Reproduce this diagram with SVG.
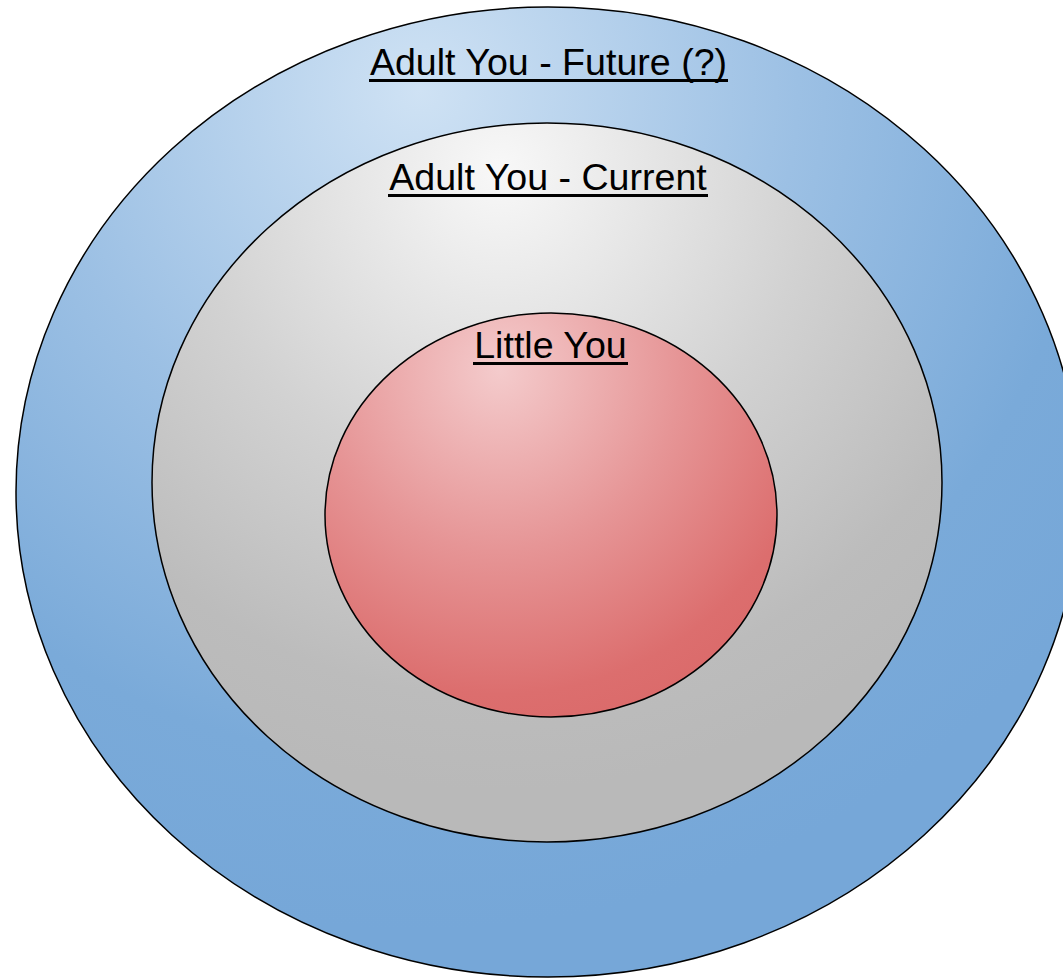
<svg xmlns="http://www.w3.org/2000/svg" width="1063" height="979" viewBox="0 0 1063 979">
  <style>
    .ring { stroke: #000; stroke-width: 1.5; }
    .lbl { font-family: "Liberation Sans", Arial, sans-serif; font-size: 37.6px; fill: #000; text-anchor: middle; }
    .ul { fill: #000; }
  </style>
  <defs>
    <radialGradient id="gBlue" gradientUnits="userSpaceOnUse" cx="420" cy="90" r="840" fx="420" fy="90">
      <stop offset="0" stop-color="#cfe2f4"/>
      <stop offset="0.45" stop-color="#9cc0e4"/>
      <stop offset="0.8" stop-color="#7aaad9"/>
      <stop offset="1" stop-color="#76a7d8"/>
    </radialGradient>
    <radialGradient id="gGray" gradientUnits="userSpaceOnUse" cx="500" cy="170" r="620" fx="500" fy="170">
      <stop offset="0" stop-color="#f8f8f8"/>
      <stop offset="0.5" stop-color="#d2d2d2"/>
      <stop offset="0.85" stop-color="#bcbcbc"/>
      <stop offset="1" stop-color="#b9b9b9"/>
    </radialGradient>
    <radialGradient id="gRed" gradientUnits="userSpaceOnUse" cx="500" cy="370" r="360" fx="500" fy="370">
      <stop offset="0" stop-color="#f4cbcc"/>
      <stop offset="0.5" stop-color="#e69596"/>
      <stop offset="0.9" stop-color="#dc6e6e"/>
      <stop offset="1" stop-color="#db6b6b"/>
    </radialGradient>
  </defs>
  <rect width="1063" height="979" fill="#fff"/>
  <g id="future">
    <ellipse class="ring" cx="548" cy="492" rx="532" ry="485" fill="url(#gBlue)"/>
    <text class="lbl" x="548.5" y="75">Adult You - Future (?)</text>
    <rect class="ul" x="369" y="79" width="359" height="3"/>
  </g>
  <g id="current">
    <ellipse class="ring" cx="547" cy="482.5" rx="395" ry="359.5" fill="url(#gGray)"/>
    <text class="lbl" x="548" y="190">Adult You - Current</text>
    <rect class="ul" x="388" y="194" width="320" height="3"/>
  </g>
  <g id="little">
    <ellipse class="ring" cx="551" cy="515" rx="226" ry="202" fill="url(#gRed)"/>
    <text class="lbl" x="550.5" y="358">Little You</text>
    <rect class="ul" x="473" y="362" width="155" height="3"/>
  </g>
  <g id="connectors"/>
</svg>
